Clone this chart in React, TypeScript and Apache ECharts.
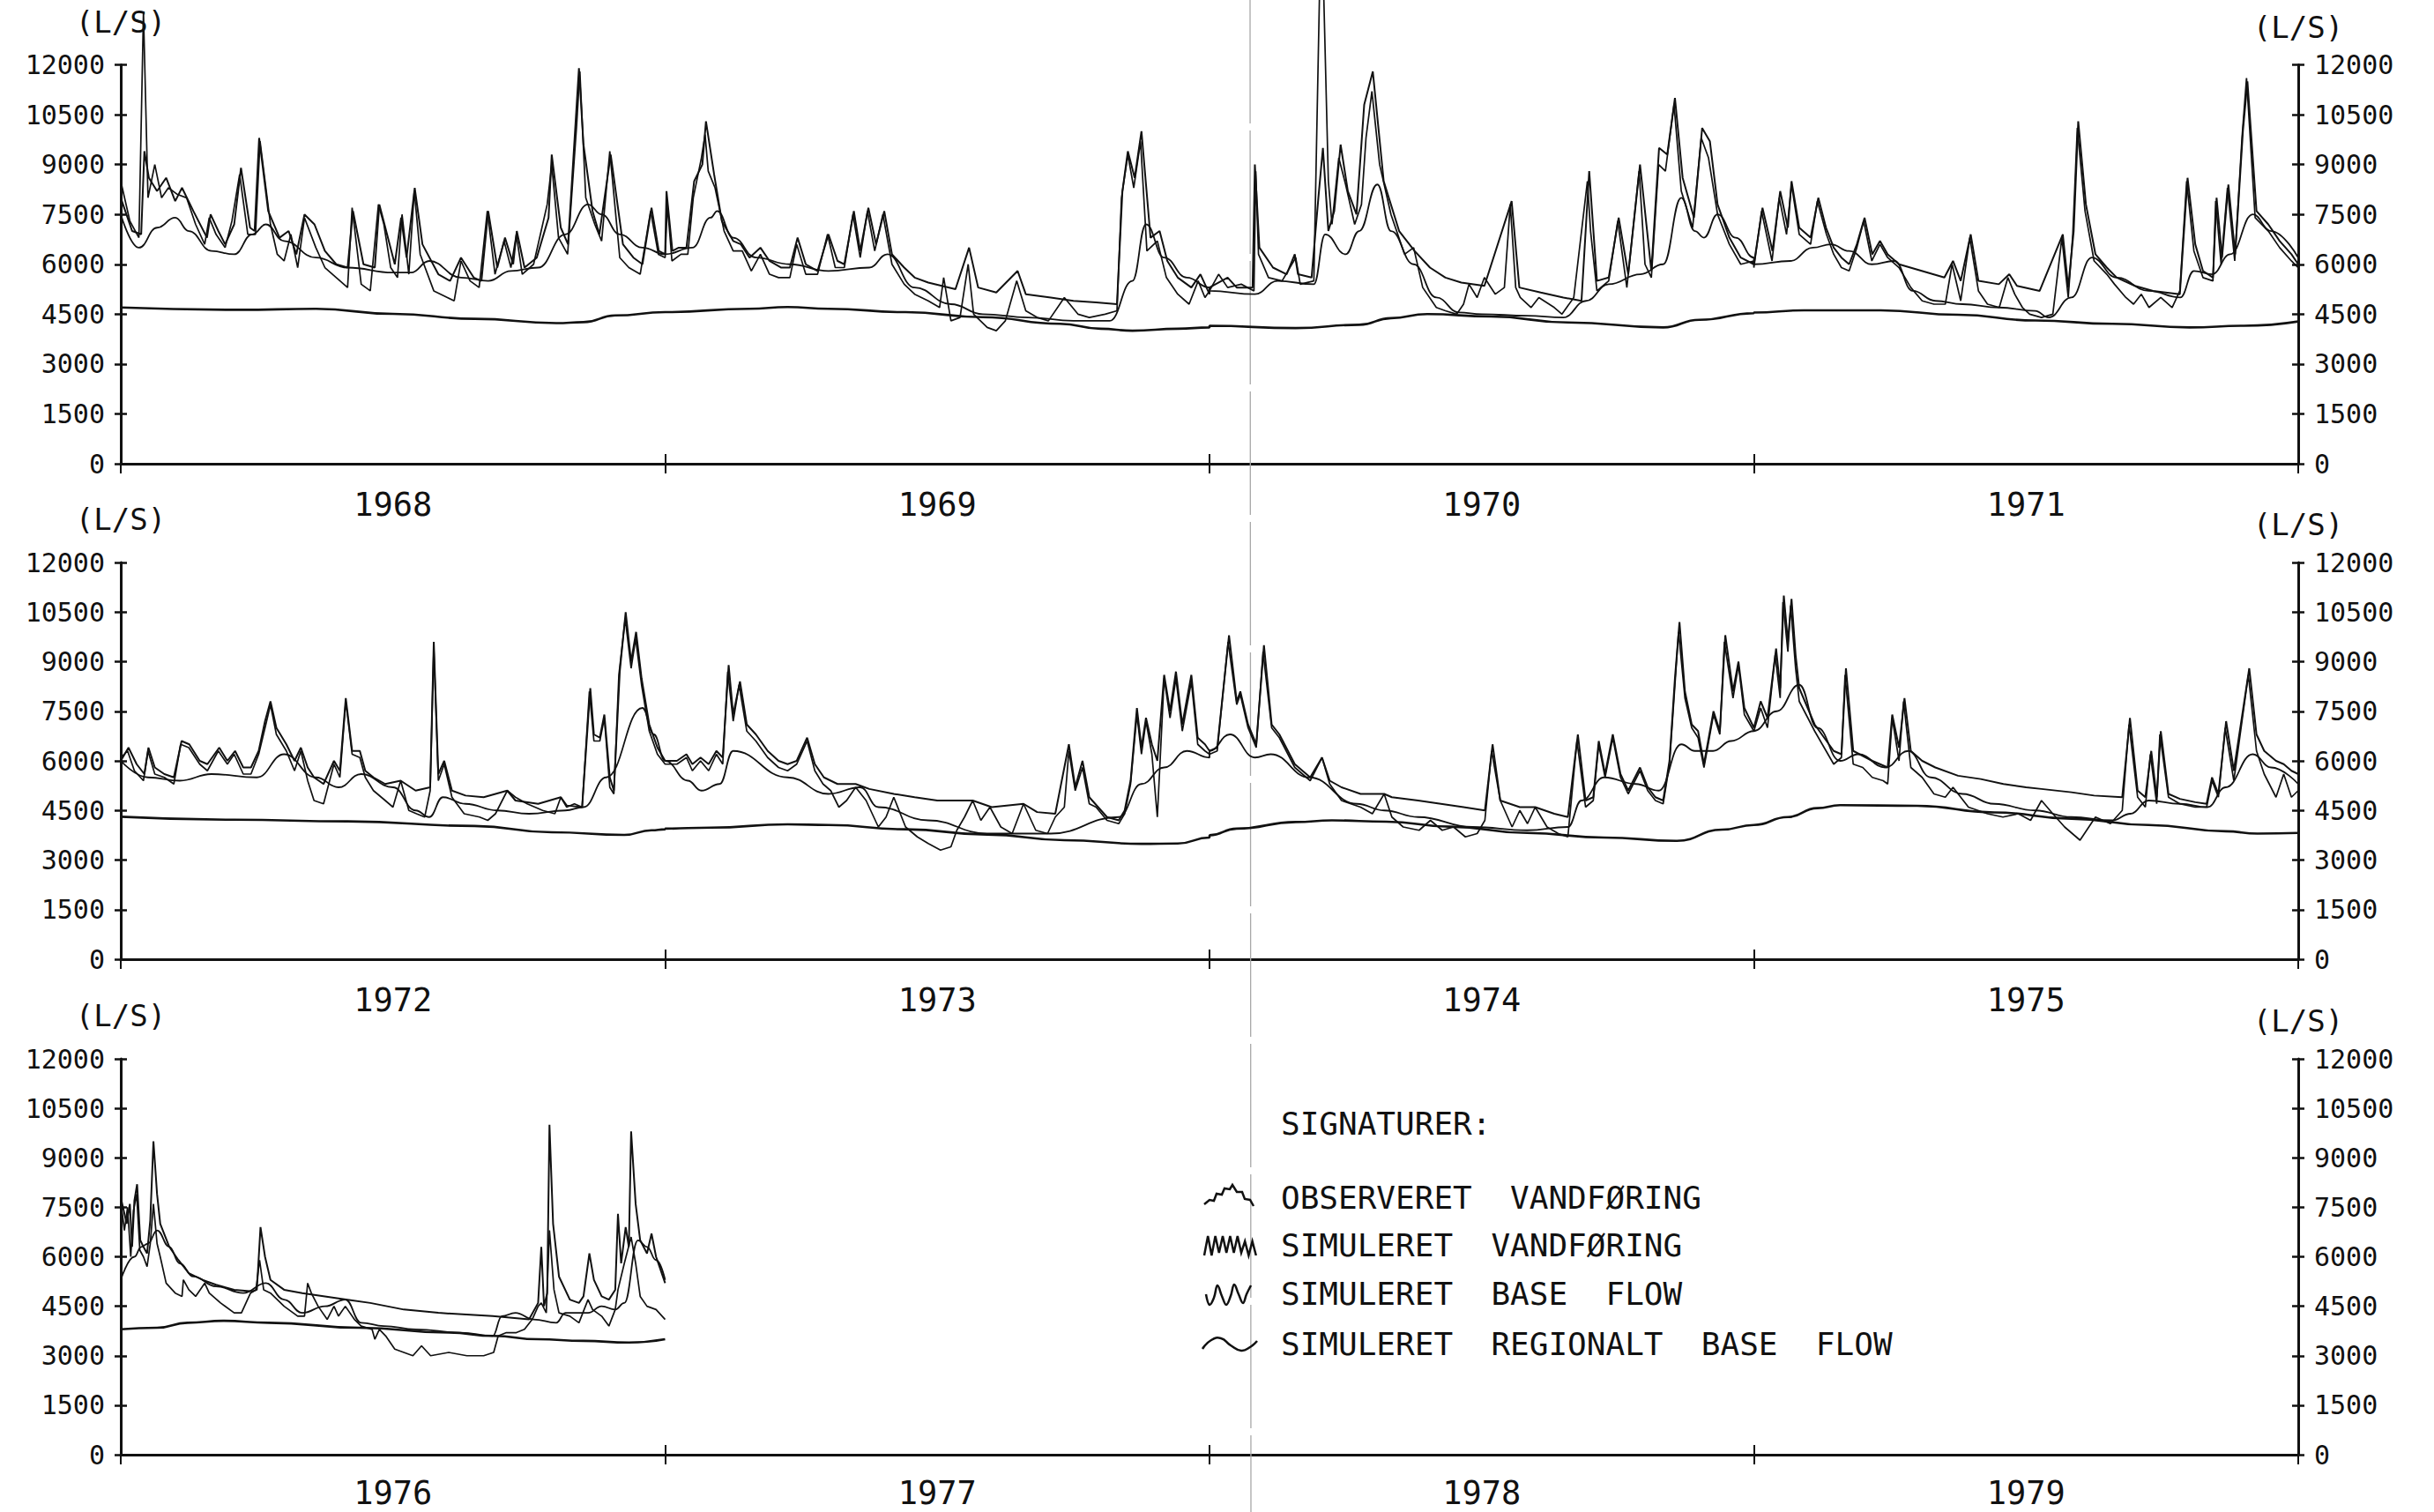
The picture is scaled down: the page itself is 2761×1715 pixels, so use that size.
import React, { useEffect, useRef } from "react";
import * as echarts from "echarts";

// ---------- categories / ticks ----------
const PANEL_YEARS = [
  ["1968", "1969", "1970", "1971"],
  ["1972", "1973", "1974", "1975"],
  ["1976", "1977", "1978", "1979"],
];
const Y_MIN = 0;
const Y_MAX = 12000;
const Y_STEP = 1500;
const UNIT = "(L/S)";

// ---------- data: [month within year, L/S] ----------
const obs1968 = [[0,8500],[0.2,7300],[0.4,6800],[0.5,13600],[0.6,8000],[0.75,9000],[0.9,8000],[1.05,8300],[1.25,8100],[1.45,8000],[1.65,7200],[1.85,6600],[1.95,7400],[2.1,6900],[2.3,6500],[2.45,7300],[2.62,8700],[2.8,6900],[2.97,6900],[3.07,9700],[3.3,7200],[3.45,6300],[3.6,6100],[3.75,6900],[3.9,5900],[4.05,7400],[4.3,6500],[4.5,5900],[4.75,5600],[5.0,5300],[5.1,7700],[5.3,5400],[5.5,5200],[5.68,7800],[5.8,7200],[5.95,5900],[6.1,5600],[6.2,7500],[6.35,5700],[6.47,8200],[6.6,6300],[6.9,5200],[7.2,5000],[7.35,4900],[7.5,6100],[7.7,5500],[7.9,5300],[8.08,7600],[8.25,5700],[8.45,6700],[8.6,5900],[8.72,6900],[8.85,5700],[9.1,6000],[9.4,7800],[9.5,9000],[9.65,6800],[9.85,6300],[10.05,10200],[10.12,11800],[10.25,8000],[10.45,7200],[10.6,6700],[10.78,9400],[11.0,6200],[11.2,5900],[11.45,5700],[11.68,7600],[11.85,6300]];
const sim1968 = [[0,8000],[0.25,7000],[0.45,6900],[0.52,9400],[0.62,8600],[0.8,8200],[1.0,8600],[1.2,7900],[1.35,8300],[1.6,7600],[1.9,6800],[1.98,7500],[2.15,7000],[2.3,6600],[2.5,7200],[2.65,8900],[2.85,7100],[2.95,7000],[3.05,9800],[3.25,7600],[3.5,6800],[3.7,7000],[3.87,6300],[4.05,7500],[4.27,7200],[4.5,6400],[4.75,6000],[5.0,5900],[5.12,7600],[5.35,6000],[5.6,5900],[5.7,7800],[5.87,6900],[6.04,6000],[6.18,7400],[6.3,6200],[6.48,8300],[6.65,6600],[7.0,5700],[7.26,5500],[7.5,6200],[7.78,5600],[7.95,5500],[8.1,7600],[8.3,5900],[8.47,6800],[8.65,6000],[8.73,7000],[8.9,5900],[9.17,6200],[9.43,7400],[9.5,9300],[9.7,7100],[9.86,6600],[10.1,11900],[10.2,9600],[10.4,7600],[10.55,6900],[10.8,9300],[11.07,6600],[11.3,6200],[11.5,6000],[11.7,7700],[11.86,6400]];
const base1968 = [[0,7500],[0.4,6500],[0.8,7100],[1.2,7400],[1.5,7000],[2.0,6400],[2.5,6300],[2.9,6900],[3.2,7200],[3.6,6700],[4.3,6200],[5.0,5900],[6.0,5750],[6.4,5750],[6.8,6100],[7.5,5600],[8.1,5500],[8.6,5800],[9.2,5900],[9.8,6900],[10.3,7800],[10.6,7500],[11.0,6900],[11.5,6500],[12,6300]];
const reg1968 = [[0,4700],[2.6,4630],[4.3,4660],[6,4510],[7.8,4360],[9.6,4230],[10.2,4260],[10.9,4460],[12,4560]];

const obs1969 = [[0,6200],[0.05,7800],[0.15,6100],[0.35,6300],[0.5,6300],[0.62,8000],[0.8,9200],[0.88,9900],[0.95,8800],[1.1,8300],[1.3,7000],[1.5,6400],[1.7,6400],[1.9,5800],[2.1,6300],[2.3,5700],[2.5,5600],[2.75,5600],[2.9,6600],[3.1,5700],[3.36,5700],[3.58,6900],[3.75,5900],[3.95,5900],[4.14,7500],[4.3,6200],[4.46,7600],[4.62,6400],[4.8,7500],[5.0,6000],[5.27,5400],[5.5,5100],[5.8,4900],[6.05,4700],[6.14,5600],[6.3,4300],[6.5,4400],[6.68,6000],[6.8,4500],[7.1,4100],[7.3,4000],[7.5,4300],[7.75,5500],[7.95,4600],[8.2,4400],[8.45,4300],[8.8,5000],[9.1,4500],[9.35,4400],[9.7,4500],[9.96,4600],[10.06,8000],[10.2,9300],[10.33,8300],[10.48,9700],[10.62,6400],[10.85,6700],[11.05,5600],[11.3,5100],[11.55,4800],[11.75,5500],[11.9,5000]];
const sim1969 = [[0,6300],[0.03,8200],[0.16,6400],[0.3,6500],[0.47,6500],[0.64,8500],[0.82,9000],[0.9,10300],[1.08,8700],[1.25,7300],[1.5,6700],[1.67,6600],[1.86,6200],[2.1,6500],[2.3,6100],[2.56,5900],[2.75,5900],[2.92,6800],[3.1,6000],[3.36,5800],[3.6,6900],[3.8,6100],[3.95,6000],[4.16,7600],[4.3,6400],[4.48,7700],[4.65,6600],[4.83,7600],[5.0,6300],[5.27,5900],[5.5,5600],[5.8,5450],[6.1,5350],[6.4,5250],[6.7,6500],[6.9,5300],[7.3,5150],[7.77,5800],[7.95,5100],[8.5,5000],[9.0,4900],[9.5,4850],[9.96,4800],[10.08,8200],[10.2,9400],[10.35,8600],[10.5,10000],[10.7,6800],[10.9,7000],[11.07,6100],[11.3,5600],[11.6,5300],[11.8,5700],[12,5100]];
const base1969 = [[0,6300],[0.6,6500],[1.0,7400],[1.15,7600],[1.5,6800],[2.0,6200],[2.75,6000],[3.6,5800],[4.5,5900],[4.9,6300],[5.5,5300],[6.3,4800],[7.0,4500],[8.0,4400],[9.0,4300],[9.8,4300],[10.3,5500],[10.6,7200],[11.0,6200],[11.5,5600],[12,5300]];
const reg1969 = [[0,4560],[1.86,4660],[2.7,4715],[3.6,4660],[5.3,4560],[7.0,4410],[8.7,4210],[9.6,4060],[10.3,4000],[11.3,4060],[12,4100]];

const obs1970 = [[0,5200],[0.2,5700],[0.4,5300],[0.7,5400],[0.98,5200],[1.02,8800],[1.08,6300],[1.3,5600],[1.6,5500],[1.9,6200],[2.0,5400],[2.3,5500],[2.43,14500],[2.52,14000],[2.62,8500],[2.7,7200],[2.85,9200],[3.0,8400],[3.2,7200],[3.35,7800],[3.45,9800],[3.58,11200],[3.75,9000],[4.0,7500],[4.3,6300],[4.5,6500],[4.7,5300],[5.0,4700],[5.2,4600],[5.45,4500],[5.6,4800],[5.72,5400],[5.9,5000],[6.06,5600],[6.3,5100],[6.5,5300],[6.63,7800],[6.75,5300],[6.85,5000],[7.09,4700],[7.26,5000],[7.6,4700],[7.77,4500],[8.03,5000],[8.33,8500],[8.4,7000],[8.54,5200],[8.8,5500],[9.0,7300],[9.2,5300],[9.47,8800],[9.6,6000],[9.74,5600],[9.9,9000],[10.05,8800],[10.24,10800],[10.4,8200],[10.65,7100],[10.84,9800],[11.0,9200],[11.2,7500],[11.46,6600],[11.71,6000],[12,6100]];
const sim1970 = [[0,5300],[0.4,5600],[0.6,5300],[0.95,5300],[1.0,9000],[1.1,6500],[1.4,5900],[1.7,5700],[1.88,6300],[1.95,5700],[2.25,5600],[2.4,8000],[2.5,9500],[2.62,7000],[2.75,7600],[2.89,9600],[3.05,8200],[3.24,7500],[3.41,10800],[3.6,11800],[3.84,8500],[4.18,7000],[4.52,6400],[4.86,5900],[5.2,5600],[5.55,5450],[6.06,5350],[6.66,7900],[6.83,5300],[7.3,5150],[7.8,5000],[8.2,4900],[8.37,8800],[8.54,5500],[8.8,5600],[9.02,7400],[9.23,5700],[9.49,9000],[9.74,5800],[9.91,9500],[10.09,9300],[10.26,11000],[10.43,8600],[10.68,7400],[10.86,10100],[11.03,9700],[11.2,7800],[11.46,6800],[11.71,6200],[12,6000]];
const base1970 = [[0,5200],[1.0,5100],[1.5,5500],[2.3,5400],[2.55,6900],[3.0,6300],[3.3,7000],[3.7,8400],[4.0,7000],[4.5,6000],[5.0,5000],[5.5,4550],[6.0,4500],[7.0,4450],[7.8,4400],[8.3,4900],[8.8,5400],[9.5,5700],[10.0,6000],[10.4,8000],[10.7,7000],[10.9,6800],[11.2,7500],[11.6,6800],[12,6200]];
const reg1970 = [[0,4150],[1.9,4080],[3.3,4180],[4.0,4380],[4.8,4500],[6.2,4430],[7.9,4250],[10.0,4100],[10.8,4330],[12,4530]];

const obs1971 = [[0,5900],[0.17,7600],[0.4,6100],[0.56,8000],[0.72,6900],[0.83,8400],[1.0,6900],[1.25,6600],[1.4,7900],[1.6,6900],[1.76,6300],[1.93,5900],[2.1,5800],[2.27,6500],[2.42,7300],[2.6,6100],[2.78,6600],[2.95,6200],[3.2,5900],[3.46,5300],[3.71,4900],[3.97,4800],[4.22,4800],[4.37,6000],[4.56,4900],[4.76,6800],[4.95,5200],[5.15,4800],[5.41,4700],[5.6,5600],[5.75,5100],[5.92,4700],[6.08,4500],[6.34,4400],[6.59,4500],[6.79,6800],[6.93,5000],[7.03,6900],[7.13,10100],[7.3,7600],[7.5,6100],[7.78,5700],[7.95,5400],[8.2,5000],[8.37,4800],[8.54,5100],[8.71,4700],[8.97,5000],[9.22,4700],[9.39,5200],[9.54,8500],[9.7,6400],[9.9,5600],[10.12,5500],[10.18,7900],[10.3,6000],[10.44,8300],[10.6,6100],[10.76,9800],[10.86,11600],[11.05,7400],[11.34,7000],[11.59,6500],[11.85,6100],[12,5900]];
const sim1971 = [[0,6000],[0.19,7700],[0.41,6400],[0.58,8200],[0.75,7100],[0.83,8500],[1.0,7100],[1.25,6800],[1.42,8000],[1.59,7100],[1.76,6500],[1.93,6200],[2.1,6000],[2.27,6600],[2.44,7400],[2.61,6300],[2.78,6700],[2.95,6300],[3.2,6000],[3.7,5800],[4.2,5600],[4.39,6100],[4.56,5500],[4.78,6900],[4.95,5500],[5.4,5400],[5.63,5700],[5.8,5350],[6.3,5200],[6.81,6900],[6.93,5300],[7.05,7000],[7.15,10300],[7.32,7800],[7.53,6300],[7.78,5900],[8.0,5600],[8.4,5350],[8.8,5200],[9.39,5100],[9.56,8600],[9.73,6600],[9.9,5800],[10.12,5600],[10.2,8000],[10.32,6200],[10.46,8400],[10.61,6300],[10.78,10000],[10.88,11500],[11.08,7600],[11.34,7200],[11.59,6700],[11.85,6300],[12,6000]];
const base1971 = [[0,6000],[0.8,6100],[1.3,6500],[1.7,6600],[2.1,6400],[2.6,6000],[3.1,6100],[3.5,5200],[4.0,4900],[4.6,4800],[5.4,4700],[6.2,4600],[6.5,4400],[7.0,5000],[7.45,6200],[8.0,5600],[8.7,5200],[9.4,5000],[9.7,5800],[10.1,5700],[10.5,6300],[11.0,7500],[11.4,7000],[12,6200]];
const reg1971 = [[0,4550],[1.1,4615],[2.8,4615],[4.5,4480],[6.2,4310],[7.9,4210],[9.6,4100],[10.8,4150],[12,4280]];

const obs1972 = [[0,6100],[0.15,6300],[0.3,5700],[0.5,5400],[0.6,6300],[0.75,5600],[0.96,5500],[1.17,5300],[1.32,6500],[1.5,6400],[1.74,5900],[1.91,5700],[2.15,6300],[2.35,5900],[2.5,6200],[2.7,5600],[2.87,5600],[3.04,6200],[3.18,7000],[3.3,7700],[3.43,6800],[3.65,6300],[3.83,5700],[3.97,6300],[4.12,5400],[4.26,4800],[4.47,4700],[4.7,5900],[4.83,5500],[4.96,7800],[5.1,6200],[5.27,6100],[5.39,5500],[5.57,5100],[5.83,4800],[6.0,4600],[6.17,5400],[6.35,4500],[6.52,4400],[6.7,4300],[6.82,5100],[6.9,9400],[7.0,5400],[7.13,5900],[7.3,4900],[7.57,4400],[7.91,4300],[8.09,4200],[8.26,4400],[8.52,5100],[8.7,4900],[8.96,4700],[9.3,4500],[9.57,4400],[9.7,4900],[9.83,4600],[10.0,4700],[10.17,4600],[10.33,8100],[10.43,6600],[10.56,6600],[10.66,7300],[10.78,5200],[10.87,5000],[10.98,8600],[11.12,10300],[11.25,8800],[11.35,9700],[11.48,8300],[11.65,6900],[11.83,6200],[12,5900]];
const sim1972 = [[0,6000],[0.17,6400],[0.35,5900],[0.52,5600],[0.61,6400],[0.75,5800],[0.96,5600],[1.17,5500],[1.34,6600],[1.51,6500],[1.74,6000],[1.91,5900],[2.17,6400],[2.35,6000],[2.52,6300],[2.7,5800],[2.87,5800],[3.04,6300],[3.18,7200],[3.3,7800],[3.43,7000],[3.65,6500],[3.83,6000],[3.97,6400],[4.12,5800],[4.26,5500],[4.47,5300],[4.7,6000],[4.83,5700],[4.96,7900],[5.1,6300],[5.27,6300],[5.39,5700],[5.57,5500],[5.83,5300],[6.17,5400],[6.5,5100],[6.82,5200],[6.9,9600],[7.0,5600],[7.13,6000],[7.3,5100],[7.6,4950],[8.0,4900],[8.52,5100],[8.7,4800],[9.2,4700],[9.7,4900],[9.83,4650],[10.17,4600],[10.35,8200],[10.43,6800],[10.56,6700],[10.66,7400],[10.78,5500],[10.87,5100],[11.0,8700],[11.13,10500],[11.25,9000],[11.36,9900],[11.48,8500],[11.65,7100],[11.83,6400],[12,6000]];
const base1972 = [[0,6000],[0.6,5500],[1.3,5400],[2.0,5600],[3.0,5500],[3.6,6200],[4.3,5500],[4.8,5200],[5.3,5600],[6.0,5200],[6.5,4500],[6.8,4300],[7.1,4900],[7.6,4700],[8.3,4500],[9.0,4400],[9.8,4500],[10.2,4600],[10.7,5500],[11.5,7600],[11.75,6800],[12,6000]];
const reg1972 = [[0,4310],[2.5,4220],[5,4170],[7.8,4030],[9.5,3840],[11.1,3760],[11.7,3900],[12,3930]];

const obs1973 = [[0,5900],[0.26,5900],[0.47,6100],[0.6,5700],[0.78,6000],[0.96,5700],[1.13,6200],[1.27,5900],[1.38,8700],[1.5,7200],[1.63,8300],[1.8,6900],[2.0,6600],[2.26,6100],[2.5,5800],[2.7,5700],[2.9,5900],[3.13,6600],[3.3,5700],[3.48,5300],[3.65,5100],[3.83,4600],[4.0,4800],[4.2,5200],[4.43,4800],[4.7,4000],[4.87,4300],[5.04,4900],[5.3,4000],[5.56,3700],[5.8,3500],[6.07,3300],[6.3,3400],[6.43,3900],[6.6,4300],[6.78,4800],[6.96,4200],[7.16,4600],[7.4,4000],[7.65,3800],[7.9,4700],[8.17,3900],[8.43,3800],[8.6,4300],[8.8,4600],[8.9,6300],[9.04,5100],[9.2,5800],[9.35,4700],[9.5,4600],[9.74,4200],[10.0,4100],[10.13,4400],[10.26,5300],[10.4,7400],[10.5,6200],[10.6,7200],[10.73,6200],[10.85,4300],[11.0,8500],[11.13,7300],[11.26,8500],[11.4,6900],[11.6,8400],[11.74,6500],[11.9,6300],[12,6200]];
const sim1973 = [[0,6000],[0.26,6000],[0.47,6200],[0.6,5900],[0.78,6100],[0.96,5900],[1.13,6300],[1.27,6100],[1.4,8900],[1.5,7400],[1.65,8400],[1.8,7100],[2.0,6800],[2.26,6300],[2.5,6000],[2.7,5900],[2.9,6000],[3.13,6700],[3.3,5900],[3.5,5500],[3.8,5300],[4.2,5300],[4.5,5150],[5.04,5000],[5.5,4900],[6.0,4800],[6.78,4800],[7.2,4600],[7.9,4700],[8.2,4450],[8.6,4400],[8.9,6500],[9.04,5200],[9.2,6000],[9.35,4900],[9.74,4300],[10.0,4200],[10.13,4500],[10.26,5400],[10.4,7600],[10.5,6400],[10.6,7300],[10.73,6500],[10.85,6000],[11.0,8600],[11.13,7500],[11.26,8700],[11.4,7100],[11.6,8600],[11.74,6700],[11.9,6500],[12,6300]];
const base1973 = [[0,6000],[0.5,5400],[0.8,5100],[1.2,5300],[1.5,6300],[2.7,5500],[3.6,5000],[4.3,5200],[4.7,4600],[5.8,4200],[7.1,3800],[8.0,3800],[8.5,3800],[10.0,4300],[10.5,5300],[11.0,5800],[11.5,6300],[12,6100]];
const reg1973 = [[0,3950],[1.0,3980],[2.7,4080],[3.6,4060],[5.3,3930],[7.1,3770],[8.8,3600],[10.5,3490],[11.3,3500],[12,3680]];

const obs1974 = [[0,6200],[0.17,6300],[0.41,9600],[0.6,7700],[0.68,8000],[0.85,7000],[1.03,6400],[1.18,9300],[1.37,7000],[1.54,6700],[1.88,5800],[2.22,5400],[2.48,6100],[2.65,5300],[2.91,4800],[3.33,4600],[3.59,4400],[3.85,5000],[4.02,4300],[4.27,4000],[4.62,3900],[4.87,4200],[5.13,3900],[5.38,4000],[5.64,3700],[5.9,3800],[6.07,4200],[6.22,6300],[6.41,4800],[6.67,4000],[6.84,4500],[7.01,4100],[7.18,4600],[7.44,4000],[7.69,3800],[7.9,3700],[8.03,5600],[8.1,6600],[8.29,4600],[8.46,4800],[8.58,6500],[8.72,5500],[8.89,6700],[9.06,5500],[9.23,5000],[9.49,5700],[9.66,5100],[9.83,4800],[10.0,4700],[10.14,5900],[10.26,8300],[10.34,9900],[10.48,7900],[10.63,7000],[10.77,6700],[10.9,5800],[11.11,7400],[11.25,6800],[11.35,9600],[11.54,7900],[11.66,8900],[11.79,7400],[12,6900]];
const sim1974 = [[0,6300],[0.17,6400],[0.43,9800],[0.6,7800],[0.68,8100],[0.85,7100],[1.03,6500],[1.2,9500],[1.37,7100],[1.54,6800],[1.88,5900],[2.22,5500],[2.48,6100],[2.65,5400],[2.91,5200],[3.33,5000],[3.85,5000],[4.02,4900],[4.6,4800],[5.1,4700],[5.6,4600],[6.07,4500],[6.24,6500],[6.41,4800],[6.84,4600],[7.18,4600],[7.6,4400],[7.9,4300],[8.03,5800],[8.12,6800],[8.29,4800],[8.46,4900],[8.58,6600],[8.72,5600],[8.89,6800],[9.06,5600],[9.23,5100],[9.49,5800],[9.66,5200],[9.83,4900],[10.0,4800],[10.14,6000],[10.26,8500],[10.36,10200],[10.48,8100],[10.63,7100],[10.77,6900],[10.9,5900],[11.11,7500],[11.25,6900],[11.37,9800],[11.54,8100],[11.66,9000],[11.79,7600],[12,7000]];
const base1974 = [[0,6300],[0.45,6800],[1.0,6100],[1.35,6200],[2.2,5500],[3.25,4700],[3.85,4500],[4.6,4300],[5.8,4000],[7.0,3900],[7.9,4000],[8.2,4800],[8.7,5500],[9.4,5300],[9.9,5100],[10.4,6500],[10.7,6300],[11.1,6300],[11.5,6600],[12,6900]];
const reg1974 = [[0,3750],[0.6,3950],[1.9,4150],[2.7,4200],[3.9,4160],[5.3,4010],[7.0,3820],[8.7,3680],[10.3,3580],[11.3,3920],[12,4060]];

const obs1975 = [[0,6900],[0.15,7600],[0.3,7000],[0.47,9200],[0.58,7900],[0.64,10800],[0.75,9300],[0.81,10700],[0.92,8800],[1.0,7800],[1.34,6900],[1.76,5900],[1.93,6100],[2.01,8600],[2.19,5900],[2.4,5800],[2.61,5500],[2.85,5400],[2.95,5300],[3.05,7300],[3.2,6000],[3.3,7800],[3.46,5800],[3.71,5500],[3.97,5000],[4.22,4900],[4.39,5200],[4.73,4600],[5.15,4400],[5.49,4300],[5.83,4400],[6.1,4200],[6.34,4800],[6.59,4400],[6.85,4000],[7.19,3600],[7.53,4300],[7.86,4100],[8.12,4500],[8.27,7100],[8.46,4900],[8.63,4600],[8.74,6200],[8.88,4700],[8.95,6800],[9.14,4900],[9.39,4700],[9.73,4600],[9.98,4600],[10.1,5400],[10.24,4900],[10.39,7000],[10.58,5400],[10.9,8600],[11.08,6300],[11.25,5600],[11.51,4900],[11.68,5600],[11.85,4900],[12,5100]];
const sim1975 = [[0,7000],[0.15,7800],[0.3,7300],[0.49,9400],[0.58,8200],[0.66,11000],[0.75,9600],[0.83,10900],[0.92,9200],[1.0,8200],[1.34,7100],[1.76,6300],[1.93,6200],[2.03,8800],[2.19,6300],[2.61,6000],[2.95,5800],[3.05,7400],[3.2,6400],[3.32,7900],[3.46,6300],[3.71,6000],[4.0,5800],[4.5,5550],[5.0,5450],[5.5,5300],[6.0,5200],[6.34,5150],[7.0,5050],[7.5,4950],[8.12,4900],[8.29,7300],[8.46,5100],[8.63,4900],[8.76,6300],[8.88,4900],[8.97,6900],[9.14,5000],[9.39,4850],[9.73,4750],[9.98,4700],[10.1,5500],[10.24,5000],[10.41,7200],[10.58,5700],[10.92,8800],[11.08,6800],[11.25,6300],[11.51,6000],[11.68,5900],[11.85,5700],[12,5600]];
const base1975 = [[0,6900],[0.5,7500],[1.0,8300],[1.4,7000],[1.9,6000],[2.3,6200],[2.9,5800],[3.4,6300],[3.9,5500],[4.6,5000],[5.3,4700],[6.2,4500],[7.0,4300],[7.9,4200],[8.3,4400],[8.7,4800],[9.4,4700],[10.0,4600],[10.4,5200],[11.0,6200],[11.4,5800],[12,5300]];
const reg1975 = [[0,4060],[0.75,4300],[1.4,4570],[1.9,4660],[3.6,4640],[5.3,4440],[7.0,4250],[8.7,4060],[10.4,3870],[11.1,3800],[12,3820]];

const obs1976 = [[0,7700],[0.08,6800],[0.15,7500],[0.22,6000],[0.28,7400],[0.35,7900],[0.42,6200],[0.5,6000],[0.58,5700],[0.65,6400],[0.72,7600],[0.8,6400],[0.87,6000],[1.0,5200],[1.2,4900],[1.35,4800],[1.38,5300],[1.5,5000],[1.65,4800],[1.85,5200],[1.95,4900],[2.2,4600],[2.5,4300],[2.66,4300],[2.86,4900],[2.98,5000],[3.06,5900],[3.15,5000],[3.3,4900],[3.6,4500],[3.9,4200],[4.05,4200],[4.12,5200],[4.2,4900],[4.35,4500],[4.55,4100],[4.7,4500],[4.8,4200],[4.95,4500],[5.15,4100],[5.3,3900],[5.54,3800],[5.6,3500],[5.7,3800],[5.84,3600],[6.04,3200],[6.44,3000],[6.63,3300],[6.83,3000],[7.23,3100],[7.63,3000],[8.0,3000],[8.22,3100],[8.32,3600],[8.5,3700],[8.72,3700],[8.9,3800],[9.07,4100],[9.2,4500],[9.27,4600],[9.38,4300],[9.45,6800],[9.55,5000],[9.66,4300],[9.9,4200],[10.1,4000],[10.3,4700],[10.4,4400],[10.6,4200],[10.76,3900],[10.9,4400],[10.96,5000],[11.1,5800],[11.25,6600],[11.35,5800],[11.45,4800],[11.6,4500],[11.8,4400],[12,4100]];
const sim1976 = [[0,7800],[0.13,7000],[0.2,7600],[0.25,6300],[0.3,7700],[0.36,8200],[0.43,6500],[0.5,6300],[0.58,6100],[0.65,7100],[0.72,9500],[0.8,7900],[0.87,7000],[1.07,6300],[1.27,5900],[1.5,5500],[1.8,5300],[2.1,5150],[2.5,5000],[2.9,4950],[3.0,5000],[3.08,6900],[3.18,6000],[3.3,5300],[3.6,5000],[4.0,4900],[4.5,4800],[5.0,4700],[5.5,4600],[6.24,4400],[7.0,4300],[8.2,4200],[9.0,4100],[9.2,4600],[9.27,6300],[9.33,4500],[9.4,4900],[9.45,10000],[9.53,7000],[9.66,5400],[9.9,4700],[10.1,4600],[10.2,4800],[10.33,6100],[10.43,5300],[10.6,4800],[10.76,4700],[10.9,5000],[10.96,7300],[11.03,5800],[11.13,6900],[11.2,6300],[11.25,9800],[11.35,7600],[11.45,6500],[11.6,6100],[11.7,6700],[11.8,6000],[12,5200]];
const base1976 = [[0,5300],[0.3,6000],[0.45,6300],[0.6,6400],[0.8,6800],[1.07,6300],[1.3,5800],[1.6,5400],[2.1,5100],[2.7,4900],[3.2,5200],[3.6,4700],[4.0,4300],[4.5,4500],[4.95,4700],[5.3,4000],[5.8,3900],[6.5,3800],[7.5,3700],[8.2,3600],[8.4,4200],[8.7,4300],[9.1,4100],[9.6,4000],[9.8,4300],[10.3,4300],[10.6,4500],[10.9,4400],[11.1,4600],[11.4,6500],[11.6,6300],[11.8,5900],[12,5300]];
const reg1976 = [[0,3800],[0.8,3850],[1.47,4000],[2.26,4060],[3.26,4000],[5.25,3850],[7.23,3700],[8.22,3600],[9.2,3500],[10.2,3450],[11.2,3400],[12,3500]];

const OBS: Record<string, number[][]> = { "1968": obs1968, "1969": obs1969, "1970": obs1970, "1971": obs1971, "1972": obs1972, "1973": obs1973, "1974": obs1974, "1975": obs1975, "1976": obs1976 };
const SIM: Record<string, number[][]> = { "1968": sim1968, "1969": sim1969, "1970": sim1970, "1971": sim1971, "1972": sim1972, "1973": sim1973, "1974": sim1974, "1975": sim1975, "1976": sim1976 };
const BASE: Record<string, number[][]> = { "1968": base1968, "1969": base1969, "1970": base1970, "1971": base1971, "1972": base1972, "1973": base1973, "1974": base1974, "1975": base1975, "1976": base1976 };
const REG: Record<string, number[][]> = { "1968": reg1968, "1969": reg1969, "1970": reg1970, "1971": reg1971, "1972": reg1972, "1973": reg1973, "1974": reg1974, "1975": reg1975, "1976": reg1976 };

const LEGEND_TITLE = "SIGNATURER:";
const LEGEND_LABELS = [
  "OBSERVERET  VANDFØRING",
  "SIMULERET  VANDFØRING",
  "SIMULERET  BASE  FLOW",
  "SIMULERET  REGIONALT  BASE  FLOW",
];

// ---------- layout ----------
const W = 2761;
const H = 1715;
const GRID_LEFT = 137;
const GRID_RIGHT = 154;
const GRID_TOPS = [73.5, 638, 1201];
const GRID_HEIGHTS = [452.5, 450, 449];
const YEAR_LABEL_MARGIN = [28, 28, 25];
const MONO = "'DejaVu Sans Mono', 'Liberation Mono', monospace";
const INK = "#111";

function joinYears(years: string[], table: Record<string, number[][]>) {
  const out: number[][] = [];
  years.forEach((y, i) => {
    const arr = table[y];
    if (!arr) return;
    arr.forEach(([m, v]) => out.push([i * 12 + m, v]));
  });
  return out;
}

const plain = (v: number) => String(v);

function buildOption() {
  const grid: any[] = [];
  const xAxis: any[] = [];
  const yAxis: any[] = [];
  const series: any[] = [];

  PANEL_YEARS.forEach((years, gi) => {
    grid.push({ left: GRID_LEFT, right: GRID_RIGHT, top: GRID_TOPS[gi], height: GRID_HEIGHTS[gi], containLabel: false });

    xAxis.push({ gridIndex: gi, type: "value", min: 0, max: years.length * 12, show: false });
    xAxis.push({
      gridIndex: gi, type: "category", data: years, position: "bottom", boundaryGap: true,
      axisLine: { show: true, onZero: false, lineStyle: { color: INK, width: 3 } },
      axisTick: { show: true, interval: 0, length: 11, lineStyle: { color: INK, width: 2 } },
      axisLabel: { show: true, interval: 0, margin: YEAR_LABEL_MARGIN[gi], fontFamily: MONO, fontSize: 37, lineHeight: 37, color: INK },
      splitLine: { show: false },
    });
    xAxis.push({
      gridIndex: gi, type: "category", data: years, position: "bottom", boundaryGap: true,
      axisLine: { show: false, onZero: false },
      axisTick: { show: true, inside: true, interval: 0, length: 11, lineStyle: { color: INK, width: 2 } },
      axisLabel: { show: false }, splitLine: { show: false },
    });

    const yBase = {
      gridIndex: gi, type: "value", min: Y_MIN, max: Y_MAX, interval: Y_STEP,
      splitLine: { show: false },
    };
    const labelStyle = { show: true, margin: 18, fontFamily: MONO, fontSize: 30, color: INK, formatter: plain };
    yAxis.push({
      ...yBase, position: "left", name: UNIT, nameLocation: "end", nameGap: 32,
      nameTextStyle: { fontFamily: MONO, fontSize: 34, color: INK, align: "center", verticalAlign: "bottom" },
      axisLine: { show: true, onZero: false, lineStyle: { color: INK, width: 3 } },
      axisTick: { show: true, length: 7, lineStyle: { color: INK, width: 2.5 } },
      axisLabel: labelStyle,
    });
    yAxis.push({
      ...yBase, position: "right", name: UNIT, nameLocation: "end", nameGap: 26,
      nameTextStyle: { fontFamily: MONO, fontSize: 34, color: INK, align: "center", verticalAlign: "bottom" },
      axisLine: { show: true, onZero: false, lineStyle: { color: INK, width: 3 } },
      axisTick: { show: true, length: 7, lineStyle: { color: INK, width: 2.5 } },
      axisLabel: labelStyle,
    });
    yAxis.push({
      ...yBase, position: "left",
      axisLine: { show: false, onZero: false },
      axisTick: { show: true, inside: true, length: 7, lineStyle: { color: INK, width: 2.5 } },
      axisLabel: { show: false },
    });
    yAxis.push({
      ...yBase, position: "right",
      axisLine: { show: false, onZero: false },
      axisTick: { show: true, inside: true, length: 7, lineStyle: { color: INK, width: 2.5 } },
      axisLabel: { show: false },
    });

    const common = {
      type: "line", xAxisIndex: gi * 3, yAxisIndex: gi * 4, showSymbol: false, symbol: "none",
      clip: false, silent: true, z: 3,
    };
    series.push({ ...common, name: "SIMULERET REGIONALT BASE FLOW", data: joinYears(years, REG), smooth: 0.5, smoothMonotone: "x", lineStyle: { color: INK, width: 2.6 } });
    series.push({ ...common, name: "SIMULERET BASE FLOW", data: joinYears(years, BASE), smooth: 0.45, smoothMonotone: "x", lineStyle: { color: INK, width: 1.8 } });
    series.push({ ...common, name: "OBSERVERET VANDFØRING", data: joinYears(years, OBS), lineStyle: { color: INK, width: 1.7 } });
    series.push({ ...common, name: "SIMULERET VANDFØRING", data: joinYears(years, SIM), lineStyle: { color: INK, width: 2 } });
  });

  // legend drawn as graphics (hand-drawn signature icons)
  const LX = 1453;
  const LY = [1358, 1412, 1467, 1524];
  const textFont = `36px ${MONO}`;
  const iconObs = [[1366, 1366], [1372, 1361], [1377, 1362], [1380, 1354], [1386, 1355], [1389, 1348], [1395, 1349], [1398, 1344], [1403, 1352], [1409, 1352], [1412, 1360], [1418, 1361], [1422, 1368]];
  const iconSim: number[][] = [];
  for (let i = 0; i <= 14; i++) iconSim.push([1366 + i * 4.2, i % 2 === 0 ? 1424 - (i > 2 && i < 12 ? 3 : 0) : 1402 + (i > 9 ? 6 : 0)]);
  const iconBase = [[1368, 1468], [1372, 1480], [1377, 1472], [1381, 1458], [1386, 1470], [1391, 1480], [1396, 1470], [1400, 1457], [1405, 1468], [1410, 1478], [1414, 1468], [1419, 1458]];
  const iconReg = [[1364, 1530], [1374, 1520], [1385, 1518], [1396, 1526], [1408, 1532], [1418, 1528], [1426, 1521]];

  const graphic: any[] = [
    { type: "line", silent: true, z: 1, shape: { x1: 1418, y1: 0, x2: 1419, y2: H }, style: { stroke: "#a8a8a8", lineWidth: 1.3, lineDash: [140, 8] } },
    { type: "text", silent: true, z: 10, x: LX, y: 1274, style: { text: LEGEND_TITLE, font: textFont, fill: INK, textVerticalAlign: "middle" } },
  ];
  LEGEND_LABELS.forEach((t, i) => {
    graphic.push({ type: "text", silent: true, z: 10, x: LX, y: LY[i], style: { text: t, font: textFont, fill: INK, textVerticalAlign: "middle" } });
  });
  graphic.push({ type: "polyline", silent: true, z: 10, shape: { points: iconObs }, style: { stroke: INK, lineWidth: 2.5, fill: "none" } });
  graphic.push({ type: "polyline", silent: true, z: 10, shape: { points: iconSim }, style: { stroke: INK, lineWidth: 2.5, fill: "none" } });
  graphic.push({ type: "polyline", silent: true, z: 10, shape: { points: iconBase, smooth: 0.4 }, style: { stroke: INK, lineWidth: 2.5, fill: "none" } });
  graphic.push({ type: "polyline", silent: true, z: 10, shape: { points: iconReg, smooth: 0.5 }, style: { stroke: INK, lineWidth: 2.5, fill: "none" } });

  return {
    animation: false,
    backgroundColor: "#ffffff",
    textStyle: { fontFamily: MONO },
    grid, xAxis, yAxis, series, graphic,
  };
}

export default function App() {
  const ref = useRef<HTMLDivElement | null>(null);
  useEffect(() => {
    if (!ref.current) return;
    const chart = echarts.init(ref.current, undefined, { renderer: "svg", width: W, height: H });
    chart.setOption(buildOption() as any);
    return () => chart.dispose();
  }, []);
  return (
    <div
      ref={ref}
      style={{ position: "fixed", left: 0, top: 0, width: W, height: H, background: "#fff" }}
    />
  );
}
